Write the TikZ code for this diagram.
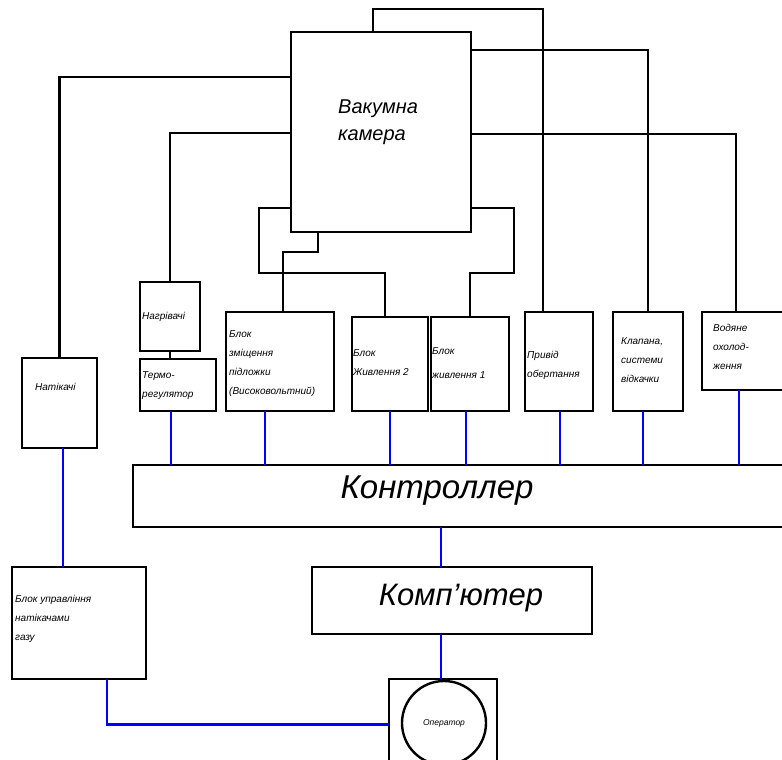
\documentclass[tikz,border=0pt]{standalone}
\usepackage{fontspec}
\setmainfont{Liberation Sans}
\begin{document}
\begin{tikzpicture}[x=1pt,y=-1pt,
  box/.style={draw, line width=2.8pt, rectangle, inner sep=0pt, outer sep=0pt, anchor=north west},
  wire/.style={line width=2.8pt, black},
  bus/.style={line width=2.8pt, blue},
  lbl/.style={font=\fontsize{10}{19}\selectfont\itshape, align=left, anchor=north west, inner sep=0pt},
  big/.style={font=\fontsize{33}{33}\selectfont\itshape, anchor=base, inner sep=0pt},
]
\useasboundingbox (0,0) rectangle (782,760);
\clip (0,0) rectangle (782,760);

% boxes
\node[box, minimum width=180pt, minimum height=200pt] (cam) at (291,32) {};
\node[box, minimum width=75pt, minimum height=90pt] (nat) at (22,358) {};
\node[box, minimum width=60pt, minimum height=69pt] (nag) at (140,282) {};
\node[box, minimum width=76pt, minimum height=52pt] (term) at (140,359) {};
\node[box, minimum width=108pt, minimum height=99pt] (zm) at (226,312) {};
\node[box, minimum width=76pt, minimum height=94pt] (zh2) at (352,317) {};
\node[box, minimum width=78pt, minimum height=94pt] (zh1) at (431,317) {};
\node[box, minimum width=68pt, minimum height=99pt] (pr) at (525,312) {};
\node[box, minimum width=70pt, minimum height=99pt] (kl) at (613,312) {};
\node[box, minimum width=100pt, minimum height=78pt] (vod) at (702,312) {};
\node[box, minimum width=680pt, minimum height=62pt] (ctrl) at (133,465) {};
\node[box, minimum width=280pt, minimum height=67pt] (comp) at (312,567) {};
\node[box, minimum width=134pt, minimum height=112pt] (bu) at (12,567) {};
\node[box, line width=2pt, minimum width=108pt, minimum height=91pt] (opsq) at (389,679) {};
\node[draw, circle, line width=2.4pt, minimum size=84pt, inner sep=0pt, outer sep=0pt] (op) at (444,723) {};

% labels
\node[lbl, font=\fontsize{20}{27}\selectfont\itshape] (tcam) at (338,100) {Вакумна\\камера};
\node[big] (tctrl) at (437,498) {Контроллер};
\node[big, font=\fontsize{31}{31}\selectfont\itshape] (tcomp) at (461,605) {Комп’ютер};
\node[lbl] (tnat) at (35,383) {Натікачі};
\node[lbl] (tnag) at (142,312) {Нагрівачі};
\node[lbl] (tterm) at (142,371) {Термо-\\регулятор};
\node[lbl] (tzm) at (229,330) {Блок\\зміщення\\підложки\\(Високовольтний)};
\node[lbl] (tzh2) at (353,349) {Блок\\Живлення 2};
\node[lbl, font=\fontsize{10}{24}\selectfont\itshape] (tzh1) at (432,347) {Блок\\живлення 1};
\node[lbl] (tpr) at (527,351) {Привід\\обертання};
\node[lbl] (tkl) at (621,337) {Клапана,\\системи\\відкачки};
\node[lbl] (tvod) at (713,324) {Водяне\\охолод-\\ження};
\node[lbl] (tbu) at (15,595) {Блок управління\\натікачами\\газу};
\node[font=\fontsize{8.5}{9}\selectfont\itshape, inner sep=0pt] (top) at (op.center) {Оператор};

% black connections from the chamber
\coordinate (t1) at (543,9);
\draw[wire] ([xshift=82pt]cam.north west) |- (t1) -- (t1 |- pr.north);
\draw[wire] ([yshift=-18pt]cam.north east) -| (kl.north);
\coordinate (v1) at ([xshift=34pt]vod.north west);
\draw[wire] ([yshift=-102pt]cam.north east) -| (v1);
\draw[wire] ([yshift=-45pt]cam.north west) -| (nat.north);
\draw[wire] ([yshift=-101pt]cam.north west) -| (nag.north);
\draw[wire] (nag.south) -- (nag.south |- term.north);
\coordinate (b1) at (259,273);
\coordinate (z2) at ([xshift=33pt]zh2.north west);
\draw[wire] ([yshift=-176pt]cam.north west) -| (b1) -| (z2);
\coordinate (b2) at (283,252);
\draw[wire] ([xshift=27pt]cam.south west) |- (b2) -- (b2 |- zm.north);
\coordinate (b3) at (514,273);
\draw[wire] ([yshift=-176pt]cam.north east) -| (b3) -| (zh1.north);

% blue bus lines
\coordinate (p1) at ([xshift=31pt]term.south west);
\coordinate (p2) at ([xshift=39pt]zm.south west);
\coordinate (p3) at (zh2.south);
\coordinate (p4) at ([xshift=35pt]zh1.south west);
\coordinate (p5) at ([xshift=35pt]pr.south west);
\coordinate (p6) at ([xshift=30pt]kl.south west);
\coordinate (p7) at ([xshift=37pt]vod.south west);
\foreach \p in {p1,p2,p3,p4,p5,p6,p7} \draw[bus] (\p) -- (\p |- ctrl.north);
\coordinate (q1) at ([xshift=41pt]nat.south west);
\draw[bus] (q1) -- (q1 |- bu.north);
\coordinate (q2) at ([xshift=129pt]comp.north west);
\draw[bus] (q2 |- ctrl.south) -- (q2);
\draw[bus] (q2 |- comp.south) -- (q2 |- opsq.north);
\coordinate (q3) at ([xshift=95pt]bu.south west);
\draw[bus] (q3) |- (opsq.west);
\end{tikzpicture}
\end{document}
